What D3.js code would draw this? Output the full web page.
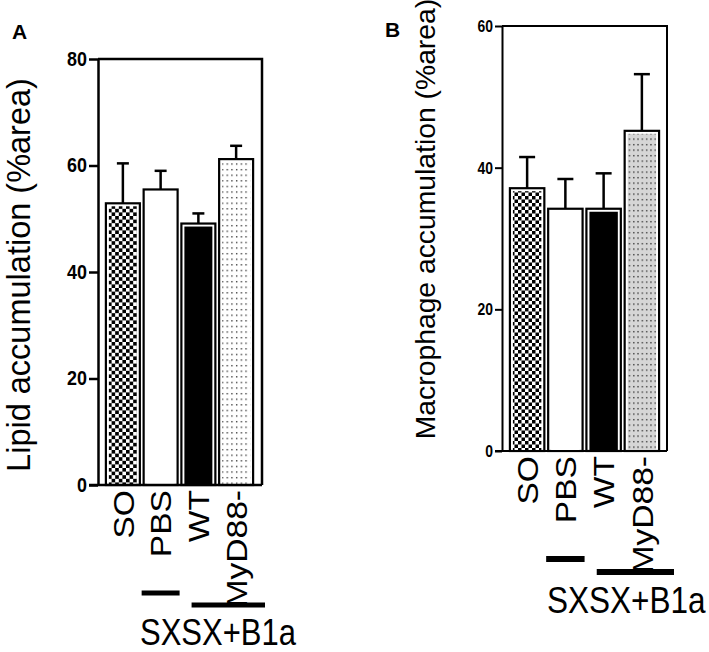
<!DOCTYPE html>
<html><head><meta charset="utf-8">
<script src="https://cdn.jsdelivr.net/npm/d3@7/dist/d3.min.js"></script>
<style>body{margin:0;background:#fff}svg{display:block}text{font-family:Arial,"Liberation Sans",sans-serif}</style>
</head><body>
<script>
const categories = ["SO","PBS","WT","MyD88-"];
const lipidMean = [52.9, 55.5, 49.1, 61.2];
const lipidErr  = [60.4, 59.0, 51.0, 63.7];
const macMean   = [37.1, 34.2, 34.2, 45.2];
const macErr    = [41.5, 38.4, 39.2, 53.2];
const lipidTicks = [0,20,40,60,80];
const macTicks = [0,20,40,60];
const fills = ["url(#checkA)","#fff","#000","url(#dotsA)"];
const fillsB = ["url(#checkB)","#fff","#000","url(#dotsB)"];

const svg = d3.select("body").append("svg").attr("width",709).attr("height",652);
const defs = svg.append("defs");
function checker(id, s){
  const p = defs.append("pattern").attr("id",id).attr("patternUnits","userSpaceOnUse").attr("width",2*s).attr("height",2*s);
  p.append("rect").attr("width",2*s).attr("height",2*s).attr("fill","#fff");
  p.append("rect").attr("width",s).attr("height",s).attr("fill","#000");
  p.append("rect").attr("x",s).attr("y",s).attr("width",s).attr("height",s).attr("fill","#000");
}
function dots(id, w, h, bg){
  const p = defs.append("pattern").attr("id",id).attr("patternUnits","userSpaceOnUse").attr("width",w).attr("height",h);
  p.append("rect").attr("width",w).attr("height",h).attr("fill",bg);
  p.append("rect").attr("x",1).attr("y",1).attr("width",1.3).attr("height",1.3).attr("fill","#222");
}
checker("checkA",3.6); checker("checkB",3.5);
dots("dotsA",4.7,5.6,"#fff"); dots("dotsB",4.3,5.5,"#d6d6d6");

function panel(o){
  const g = svg.append("g");
  const y = d3.scaleLinear().domain(o.domain).range(o.yr);
  const x = d3.scaleBand().domain(categories).range(o.xr).paddingInner(0.1).paddingOuter(0.05);
  g.append("path").attr("d",`M${o.fx0},${y(o.domain[1])}H${o.fx1}V${y(0)}`).attr("fill","none").attr("stroke","#000").attr("stroke-width",o.sw);
  const bars = g.selectAll("g.bar").data(categories).join("g");
  bars.append("rect").attr("x",d=>x(d)).attr("y",(d,i)=>y(o.mean[i])).attr("width",x.bandwidth())
    .attr("height",(d,i)=>y(0)-y(o.mean[i])).attr("fill","#fff").attr("stroke","#000").attr("stroke-width",2.2);
  bars.append("rect").attr("x",d=>x(d)+3).attr("y",(d,i)=>y(o.mean[i])+3).attr("width",x.bandwidth()-6)
    .attr("height",(d,i)=>y(0)-y(o.mean[i])-3).attr("fill",(d,i)=>o.fills[i]);
  bars.append("line").attr("x1",d=>x(d)+x.bandwidth()/2).attr("x2",d=>x(d)+x.bandwidth()/2)
    .attr("y1",(d,i)=>y(o.mean[i])).attr("y2",(d,i)=>y(o.err[i])).attr("stroke","#000").attr("stroke-width",2.5);
  bars.append("line").attr("x1",d=>x(d)+x.bandwidth()/2-o.cap/2).attr("x2",d=>x(d)+x.bandwidth()/2+o.cap/2)
    .attr("y1",(d,i)=>y(o.err[i])).attr("y2",(d,i)=>y(o.err[i])).attr("stroke","#000").attr("stroke-width",2.5);
  const ya = g.append("g").attr("transform",`translate(${o.fx0},0)`)
    .call(d3.axisLeft(y).tickValues(o.ticks).tickSize(o.tick).tickSizeOuter(0).tickPadding(2));
  ya.select(".domain").attr("stroke-width",o.sw);
  ya.selectAll(".tick line").attr("stroke-width",o.sw);
  ya.selectAll(".tick text").style("font-size",o.tfs+"px").style("font-weight","bold").attr("fill","#000")
    .attr("transform",`scale(${o.tsx},1)`).attr("x",-(o.tick+2)/o.tsx);
  g.append("line").attr("x1",o.fx0-o.tick).attr("x2",o.fx1).attr("y1",y(0)).attr("y2",y(0)).attr("stroke","#000").attr("stroke-width",o.sw);
  g.selectAll("text.cat").data(categories).join("text").attr("class","cat")
    .attr("transform",d=>`translate(${x(d)+x.bandwidth()/2},${y(0)+o.catGap}) rotate(-90) scale(1.12,1)`)
    .attr("text-anchor","end").attr("dy","0.36em").style("font-size",o.cfs+"px").text(d=>d);
  g.append("text").attr("transform",`translate(${o.tx},${o.ty}) rotate(-90)`).attr("text-anchor","middle")
    .attr("dy","0.35em").style("font-size",o.tfs2+"px").text(o.title);
  g.append("text").attr("x",o.lx).attr("y",o.ly).style("font-size","21px").style("font-weight","bold").text(o.letter);
  return {x,y,g};
}

const A = panel({domain:[0,80], yr:[485,59], xr:[104,255], fx0:98, fx1:262, sw:2.5, mean:lipidMean, err:lipidErr,
  fills:fills, cap:12, ticks:lipidTicks, tick:9, tfs:19.5, tsx:0.92, catGap:5, cfs:30, tx:19, ty:275, tfs2:32.5,
  title:"Lipid accumulation (%area)", letter:"A", lx:12, ly:39});
const B = panel({domain:[0,60], yr:[451,26], xr:[508,661], fx0:502, fx1:667, sw:2, mean:macMean, err:macErr,
  fills:fillsB, cap:16, ticks:macTicks, tick:7, tfs:17, tsx:0.82, catGap:5, cfs:30, tx:425, ty:219, tfs2:28.3,
  title:"Macrophage accumulation (%area)", letter:"B", lx:385, ly:37});

function groups(P, shortY, longY, longX1, textX, textY, th, fs){
  const x = P.x;
  P.g.append("line").attr("x1",x("PBS")-2).attr("x2",x("PBS")+x.bandwidth()+2).attr("y1",shortY).attr("y2",shortY).attr("stroke","#000").attr("stroke-width",th);
  P.g.append("line").attr("x1",x("WT")+x.bandwidth()*0.3).attr("x2",longX1).attr("y1",longY).attr("y2",longY).attr("stroke","#000").attr("stroke-width",th);
  P.g.append("text").attr("transform",`translate(${textX},${textY}) scale(1,1.2)`).style("font-size",fs+"px").text("SXSX+B1a");
}
groups(A, 593, 605, 265, 140, 645, 5, 31);
groups(B, 559, 572, 674, 547, 613, 6, 31.5);
</script>
</body></html>
